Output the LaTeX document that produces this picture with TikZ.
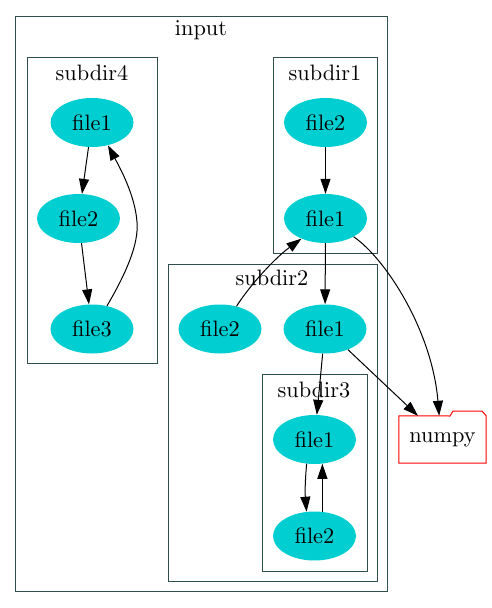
\documentclass[tikz,border=0pt]{standalone}
\usetikzlibrary{arrows.meta,shapes.geometric}
\definecolor{turq}{HTML}{00CED1}
\definecolor{slate}{HTML}{2F4F4F}
\font\gvfont=cmr10 at 22.3pt

\begin{document}
\begin{tikzpicture}[x=1pt,y=-1pt,
    file/.style={ellipse,fill=turq,minimum width=83pt,minimum height=49pt,
      inner sep=0pt,font=\gvfont},
    cluster/.style={draw=slate,line width=1pt},
    title/.style={font=\gvfont},
    edge/.style={line width=1pt,-{Triangle[length=15pt,width=10pt]}}]
  \useasboundingbox (0,0) rectangle (491,608);

  % clusters
  \draw[cluster] (15.5,16) rectangle (387.5,591.5);
  \draw[cluster] (27,57) rectangle (157,363);
  \draw[cluster] (273,57) rectangle (377,253);
  \draw[cluster] (168,264) rectangle (377,581);
  \draw[cluster] (262,374) rectangle (367,571);

  \node[title] (t-input) at (201,30) {input};
  \node[title] (t-sub4) at (92,73) {subdir4};
  \node[title] (t-sub1) at (325,73) {subdir1};
  \node[title] (t-sub2) at (272,278) {subdir2};
  \node[title] (t-sub3) at (314,390) {subdir3};

  % files
  \node[file] (s4f1) at (92,122.5) {file1};
  \node[file] (s4f2) at (78.5,218.5) {file2};
  \node[file] (s4f3) at (92,329) {file3};

  \node[file] (s1f2) at (325.5,122.5) {file2};
  \node[file] (s1f1) at (325.5,218.5) {file1};

  \node[file] (s2f2) at (220,329) {file2};
  \node[file] (s2f1) at (325,329) {file1};

  \node[file] (s3f1) at (314.5,439.5) {file1};
  \node[file] (s3f2) at (314.5,536) {file2};

  \node[minimum width=87pt,minimum height=47pt,inner sep=0pt,
    font=\gvfont] (numpy) at (442.5,439.5) {numpy};
  \draw[red,line width=1pt] (numpy.south west) -- (numpy.north west)
    -- (450,416) -- (453,411) -- (482,411) -- (numpy.north east)
    -- (numpy.south east) -- cycle;

  % imports
  \draw[edge] (s4f1) -- (s4f2);
  \draw[edge] (s4f2) -- (s4f3);
  \draw[edge] (s4f3.57) .. controls (125,275) and (139,245) .. (137,222)
    .. controls (135,195) and (120,168) .. (s4f1.-55);

  \draw[edge] (s1f2) -- (s1f1);
  \draw[edge] (s1f1) -- (s2f1);
  \draw[edge] (s2f2.54) .. controls (250,285) and (275,258) .. (s1f1.-140);
  \draw[edge] (s1f1.-33) .. controls (385,258) and (432,330) .. (numpy.98);
  \draw[edge] (s2f1.-42) -- (numpy.136);
  \draw[edge] (s2f1) -- (s3f1);

  \draw[edge] (s3f1.-108) to[bend right=5] (s3f2.108);
  \draw[edge] (s3f2.72) -- (s3f1.-72);
\end{tikzpicture}
\end{document}
